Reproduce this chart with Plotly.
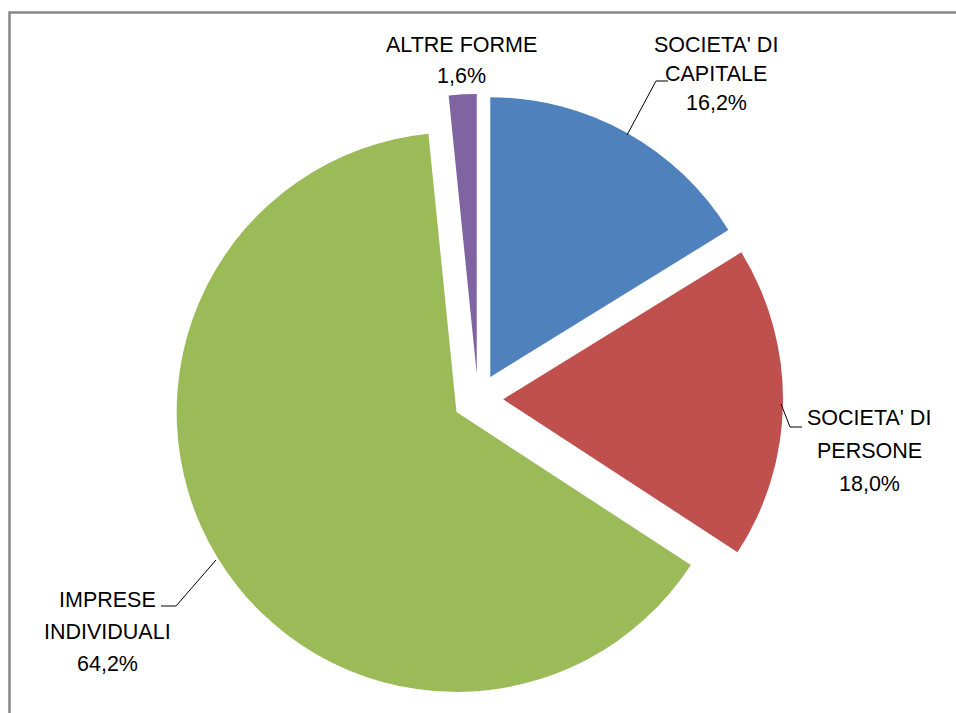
import plotly.graph_objects as go

categories = ["SOCIETA' DI CAPITALE", "SOCIETA' DI PERSONE", "IMPRESE INDIVIDUALI", "ALTRE FORME"]
values = [16.2, 18.0, 64.2, 1.6]
label_lines = [["SOCIETA' DI", "CAPITALE"], ["SOCIETA' DI", "PERSONE"], ["IMPRESE", "INDIVIDUALI"], ["ALTRE FORME"]]
colors = ["#4F81BD", "#C0504D", "#9BBB59", "#8064A2"]

W, H = 956, 713

def px(x):
    return x / W

def py(y):
    return 1 - y / H

fig = go.Figure()
fig.add_trace(go.Pie(
    labels=categories,
    values=values,
    sort=False,
    direction="clockwise",
    rotation=0,
    pull=[0.09, 0.09, 0.09, 0.09],
    marker=dict(colors=colors, line=dict(width=0)),
    textinfo="none",
    hoverinfo="label+percent",
    showlegend=False,
    domain=dict(x=[px(173), px(783)], y=[py(704), py(94)]),
))

def fmt(v):
    return f"{v:.1f}".replace(".", ",") + "%"

# label placement (label centre x, first line y, line spacing) in window pixels
label_pos = [(716, 45), (869, 418), (107, 600), (461, 45)]
spacing = [29, 33, 32, 31]
font = dict(family="Liberation Sans, Arial, sans-serif", size=21.5, color="#000000")
for lines, v, (cx, y0), sp in zip(label_lines, values, label_pos, spacing):
    all_lines = lines + [fmt(v)]
    for i, t in enumerate(all_lines):
        fig.add_annotation(x=px(cx), y=py(y0 + i * sp), xref="paper", yref="paper",
                           text=t, showarrow=False, font=font,
                           xanchor="center", yanchor="middle")

# leader lines
leaders = [
    [(627, 135), (656, 81), (668, 81)],
    [(781, 404), (790, 427), (802, 427)],
    [(216, 560), (176, 606), (161, 606)],
]
for pts in leaders:
    path = "M " + " L ".join(f"{px(x)},{py(y)}" for x, y in pts)
    fig.add_shape(type="path", path=path, xref="paper", yref="paper",
                  line=dict(color="#000000", width=1))

# chart border (only top and left edges visible in the window)
border_col = "#868686"
fig.add_shape(type="path", xref="paper", yref="paper",
              path=f"M {px(9.5)},{py(900)} L {px(9.5)},{py(12.5)} L {px(1200)},{py(12.5)}",
              line=dict(color=border_col, width=2.5))

fig.update_layout(
    width=W, height=H,
    margin=dict(l=0, r=0, t=0, b=0),
    paper_bgcolor="white",
    plot_bgcolor="white",
)
fig.write_html("out.html",
               config={"displayModeBar": False},
               post_script="document.body.style.margin='0';document.body.style.overflow='hidden';")
